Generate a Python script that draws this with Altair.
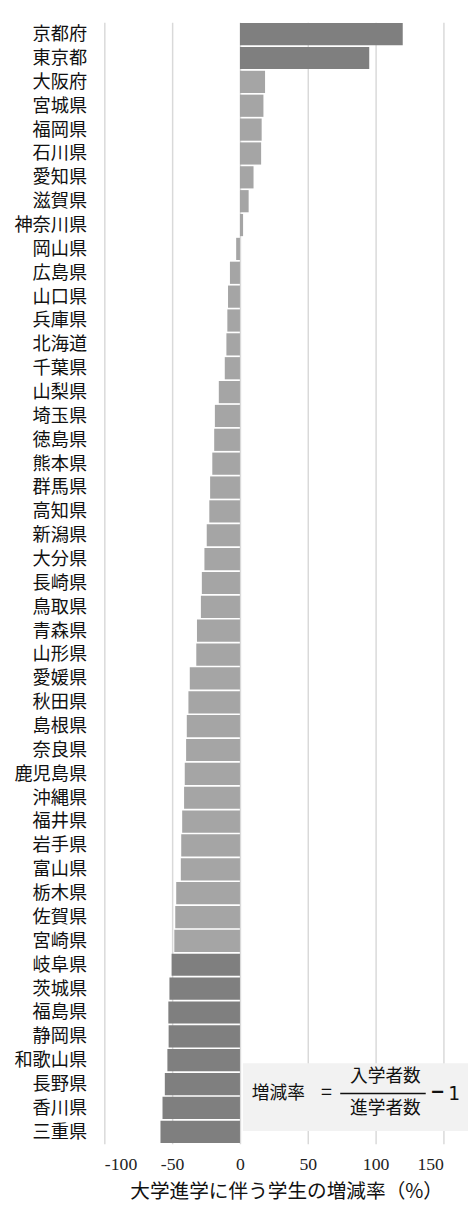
import altair as alt
import pandas as pd

prefs = ["京都府", "東京都", "大阪府", "宮城県", "福岡県", "石川県", "愛知県", "滋賀県",
         "神奈川県", "岡山県", "広島県", "山口県", "兵庫県", "北海道", "千葉県", "山梨県",
         "埼玉県", "徳島県", "熊本県", "群馬県", "高知県", "新潟県", "大分県", "長崎県",
         "鳥取県", "青森県", "山形県", "愛媛県", "秋田県", "島根県", "奈良県", "鹿児島県",
         "沖縄県", "福井県", "岩手県", "富山県", "栃木県", "佐賀県", "宮崎県", "岐阜県",
         "茨城県", "福島県", "静岡県", "和歌山県", "長野県", "香川県", "三重県"]
rates = [120.0, 95.3, 18.5, 17.3, 16.0, 15.6, 10.0, 6.4,
         2.3, -2.8, -7.4, -8.8, -9.3, -10.0, -11.2, -15.6,
         -18.5, -19.0, -20.4, -22.0, -22.6, -24.5, -26.2, -28.1,
         -28.8, -31.7, -32.2, -37.0, -38.0, -39.2, -39.7, -40.7,
         -41.2, -42.6, -43.3, -43.6, -47.0, -47.7, -48.4, -50.4,
         -52.0, -52.8, -52.6, -53.5, -55.4, -57.1, -58.6]
highlight = ["京都府", "東京都", "岐阜県", "茨城県", "福島県", "静岡県", "和歌山県",
             "長野県", "香川県", "三重県"]
x_ticks = [-100, -50, 0, 50, 100, 150]

df = pd.DataFrame({
    "pref": prefs,
    "rate": rates,
    "grp": ["hi" if p in highlight else "lo" for p in prefs],
})

W, H = 345, 1141
jp = "Noto Sans CJK JP"
serif = "Liberation Serif, Times New Roman, serif"

bars = alt.Chart(df).mark_bar().encode(
    x=alt.X("rate:Q",
            scale=alt.Scale(domain=[-100, 150], nice=False, zero=False),
            axis=alt.Axis(values=x_ticks, grid=True, gridColor="#d9d9d9", gridWidth=1.5,
                          ticks=False, domain=False, labelFont=serif,
                          labelFontSize=18, labelColor="#222", labelPadding=12,
                          labelExpr="toString(datum.value)",
                          title="大学進学に伴う学生の増減率（%）", titleFont=jp,
                          titleFontSize=20, titleFontWeight="normal", titleColor="#111",
                          titleX=185, titleY=49, titleBaseline="middle",
                          titleAlign="center")),
    y=alt.Y("pref:N", sort=prefs,
            scale=alt.Scale(paddingInner=0.07, paddingOuter=0.035),
            axis=alt.Axis(title=None, ticks=False, domain=False, grid=False,
                          labelFont=jp, labelFontSize=18.5, labelColor="#111",
                          labelPadding=18)),
    color=alt.Color("grp:N", scale=alt.Scale(domain=["hi", "lo"],
                                             range=["#7f7f7f", "#a5a5a5"]),
                    legend=None),
)

one = alt.Data(values=[{"a": 1}])

box = alt.Chart(one).mark_rect(color="#f2f2f2", clip=False).encode(
    x=alt.value(141), x2=alt.value(372), y=alt.value(1059), y2=alt.value(1128))

def txt(s, x, y, size=18, font=jp, weight="normal"):
    return alt.Chart(one).mark_text(font=font, fontSize=size, color="#111",
                                    fontWeight=weight,
                                    align="center", baseline="middle").encode(
        x=alt.value(x), y=alt.value(y), text=alt.value(s))

frac_line = alt.Chart(one).mark_rule(color="#111", strokeWidth=1.5).encode(
    x=alt.value(240), x2=alt.value(327), y=alt.value(1090))

ann = [
    box,
    txt("増減率", 177, 1090),
    txt("=", 226, 1090, size=20),
    txt("入学者数", 286, 1073),
    txt("進学者数", 286, 1106),
    frac_line,
    txt("−", 339, 1090, size=22, weight="bold"),
    txt("1", 356, 1091, size=19, font="DejaVu Sans"),
]

chart = alt.layer(bars, *ann).properties(
    width=W, height=H,
    autosize=alt.AutoSizeParams(type="none"),
    padding={"left": 98, "top": 4, "right": 25, "bottom": 60},
).configure_view(stroke=None)

chart.save("out.html", embed_options={"renderer": "svg", "actions": False})
